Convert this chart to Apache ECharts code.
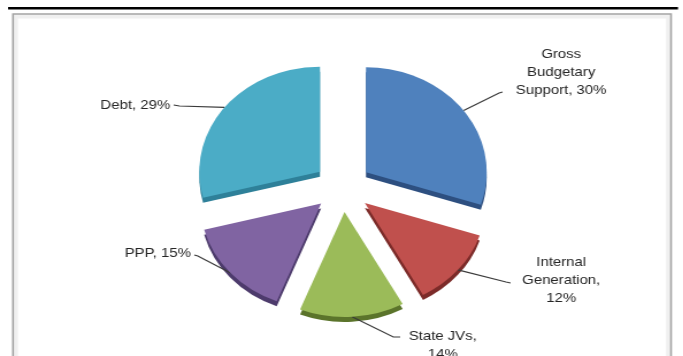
<!DOCTYPE html>
<html>
<head>
<meta charset="utf-8">
<script src="https://cdn.jsdelivr.net/npm/echarts@6/dist/echarts.min.js"></script>
<style>
  html, body { margin: 0; padding: 0; background: #fff; overflow: hidden; }
  #frame { width: 683px; height: 356px; overflow: hidden; }
  /* the chart is laid out narrower and stretched horizontally, giving the tilted (oval) pie look */
  #chart { width: 594px; height: 356px; transform: scaleX(1.15); transform-origin: 0 0; }
</style>
</head>
<body>
<div id="frame"><div id="chart"></div></div>
<script>
// ---- data ----
const categories = ['Gross Budgetary Support', 'Internal Generation', 'State JVs', 'PPP', 'Debt'];
const shares = [30, 12, 14, 15, 29];
// label text in front of the value, with the line breaks used on the chart
const labelHeads = ['Gross\nBudgetary\nSupport, ', 'Internal\nGeneration,\n', 'State JVs,\n', 'PPP, ', 'Debt, '];

// ---- styling ----
const topColors  = ['#4f81bd', '#c0504d', '#9bbb59', '#8064a2', '#4bacc6'];
const sideColors = ['#2d4f80', '#7c2b29', '#5b742b', '#4d3b6c', '#2e8099'];

const CX = 298, CY = 187, R = 105, EXPLODE = 25, DEPTH = 5;

const total = shares.reduce((a, b) => a + b, 0);
let acc = 0;
// middle angle of each slice, in degrees clockwise from 12 o'clock
const midAngles = shares.map(v => { const m = (acc + v / 2) / total * 360; acc += v; return m; });

// where each label sits and how its leader line bends
const labelPlace = [
  { x: 488, y: 72,  align: 'center', bend: [434, 93],  end: [437, 92] },
  { x: 488, y: 280, align: 'center', bend: [440, 282], end: [444, 283] },
  { x: 385, y: 345, align: 'center', bend: [342, 337], end: [348, 337] },
  { x: 166, y: 253, align: 'right',  bend: [172, 256], end: [169, 255] },
  { x: 148, y: 105, align: 'right',  bend: [156, 106], end: [151, 105] }
];

function sliceSeries(i, side) {
  const a = midAngles[i] * Math.PI / 180;
  const cx = CX + EXPLODE * Math.sin(a);
  const cy = CY - EXPLODE * Math.cos(a) + (side ? DEPTH : 0);
  return {
    type: 'pie',
    silent: true,
    animation: false,
    startAngle: 90,
    clockwise: true,
    radius: [0, R],
    center: [cx, cy],
    avoidLabelOverlap: false,
    z: side ? 1 : 2,
    emphasis: { disabled: true },
    itemStyle: { borderWidth: 0 },
    data: shares.map((v, j) => ({
      name: categories[j],
      value: v,
      itemStyle: { color: j === i ? (side ? sideColors[j] : topColors[j]) : 'rgba(0,0,0,0)', borderWidth: 0 },
      label: { show: !side && j === i },
      labelLine: { show: !side && j === i }
    })),
    label: {
      position: 'outside',
      formatter: p => labelHeads[p.dataIndex] + p.value + '%',
      fontFamily: 'Liberation Sans, Arial, sans-serif',
      fontSize: 13,
      lineHeight: 18,
      color: '#262626'
    },
    labelLine: { length: 10, length2: 10, lineStyle: { color: '#3a3a3a', width: 1.2 } },
    labelLayout: side ? undefined : function (params) {
      if (params.dataIndex !== i) return {};
      const lp = labelPlace[i];
      const start = params.labelLinePoints ? params.labelLinePoints[0]
        : [cx + R * Math.sin(a), cy - R * Math.cos(a)];
      return {
        x: lp.x, y: lp.y, align: lp.align, verticalAlign: 'middle',
        labelLinePoints: [start, lp.bend, lp.end]
      };
    }
  };
}

const series = [];
shares.forEach((v, i) => series.push(sliceSeries(i, true)));
shares.forEach((v, i) => series.push(sliceSeries(i, false)));

const chart = echarts.init(document.getElementById('chart'), null, { renderer: 'canvas' });
chart.setOption({
  backgroundColor: '#ffffff',
  animation: false,
  graphic: [
    { type: 'text', left: 11, top: -16, style: { text: '(Share in total resources in %)', font: 'bold 16.7px "Liberation Sans", Arial, sans-serif', fill: '#000' } },
    { type: 'rect', shape: { x: 7, y: 7, width: 582.6, height: 2.6 }, style: { fill: '#000' } },
    { type: 'rect', shape: { x: 13.5, y: 16.5, width: 567.8, height: 400 }, style: { fill: 'none', stroke: '#f0f0f0', lineWidth: 4 } },
    { type: 'rect', shape: { x: 11.3, y: 14, width: 572.2, height: 400 }, style: { fill: 'none', stroke: '#a4a4a4', lineWidth: 1.6 } }
  ],
  series: series
});
</script>
</body>
</html>
